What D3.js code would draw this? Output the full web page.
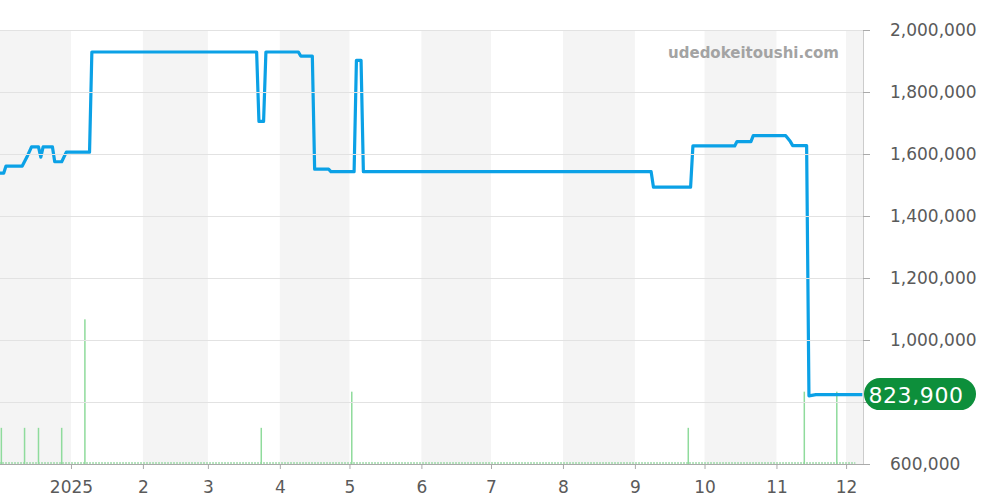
<!DOCTYPE html>
<html><head><meta charset="utf-8">
<script src="https://cdn.jsdelivr.net/npm/d3@7"></script>
<style>body{margin:0;background:#fff}svg{display:block;font-family:"DejaVu Sans",sans-serif}</style>
</head><body><svg id="c" width="1000" height="500"></svg>
<script>
const priceDates = ["2024-12-01","2024-12-03","2024-12-04","2024-12-11","2024-12-13","2024-12-15","2024-12-18","2024-12-19","2024-12-20","2024-12-24","2024-12-25","2024-12-28","2024-12-30","2025-01-09","2025-01-10","2025-03-22","2025-03-23","2025-03-25","2025-03-26","2025-04-09","2025-04-10","2025-04-15","2025-04-16","2025-04-22","2025-04-23","2025-05-03","2025-05-04","2025-05-06","2025-05-07","2025-09-08","2025-09-09","2025-09-25","2025-09-26","2025-10-14","2025-10-15","2025-10-21","2025-10-22","2025-11-05","2025-11-07","2025-11-08","2025-11-14","2025-11-15","2025-11-18","2025-12-08"];
const priceValues = [1538000,1538000,1561000,1561000,1590000,1623000,1623000,1590000,1623000,1623000,1575000,1575000,1606000,1606000,1929000,1929000,1705000,1705000,1929000,1929000,1916000,1916000,1551000,1551000,1543000,1543000,1902000,1902000,1543000,1543000,1493000,1493000,1626000,1626000,1640000,1640000,1659000,1659000,1640000,1627000,1627000,820000,823900,823900];
const volumeDates = ["2024-12-02","2024-12-12","2024-12-18","2024-12-28","2025-01-07","2025-03-24","2025-05-02","2025-09-24","2025-11-13","2025-11-27"];
const volumeValues = [1,1,1,1,4,1,2,1,2,2];
const yTicks = [600000,800000,1000000,1200000,1400000,1600000,1800000,2000000];
const monthStarts = ["2025-01-01","2025-02-01","2025-03-01","2025-04-01","2025-05-01","2025-06-01","2025-07-01","2025-08-01","2025-09-01","2025-10-01","2025-11-01","2025-12-01"];
const monthLabels = ["2025","2","3","4","5","6","7","8","9","10","11","12"];
const bandStarts = ["2024-12-01","2025-02-01","2025-04-01","2025-06-01","2025-08-01","2025-10-01","2025-12-01"];
const bandEnds = ["2025-01-01","2025-03-01","2025-05-01","2025-07-01","2025-09-01","2025-11-01","2026-01-01"];
const lastPrice = 823900;
const watermark = "udedokeitoushi.com";

const P = d3.utcParse("%Y-%m-%d");
const L = 0, R = 863, T = 30, B = 464;
const svg = d3.select("#c");
const x = d3.scaleUtc().domain([new Date(Date.UTC(2024,11,1,10)), new Date(Date.UTC(2025,11,8,7))]).range([L,R]);
const y = d3.scaleLinear().domain([600000,2000000]).range([B,T]);
const yv = d3.scaleLinear().domain([0,12]).range([B,T]);

svg.append("clipPath").attr("id","pc").append("rect").attr("x",L).attr("y",T).attr("width",R-L).attr("height",B-T);
const plot = svg.append("g").attr("clip-path","url(#pc)");

// bands
plot.selectAll("rect.band").data(bandStarts.map((s,i)=>[P(s),P(bandEnds[i])])).join("rect")
  .attr("class","band").attr("x",d=>x(d[0])).attr("width",d=>x(d[1])-x(d[0]))
  .attr("y",T).attr("height",B-T).attr("fill","#f4f4f4");

// grid
svg.append("g").selectAll("line").data(yTicks).join("line")
  .attr("x1",L).attr("x2",R).attr("y1",d=>Math.round(y(d))+0.5).attr("y2",d=>Math.round(y(d))+0.5)
  .attr("stroke","#e2e2e2").attr("stroke-width",1);

// volume baseline dotted
plot.append("line").attr("x1",x(P("2024-12-01"))).attr("x2",x(P("2025-12-05")))
  .attr("y1",B-1).attr("y2",B-1).attr("stroke","#9ddaa8").attr("stroke-width",1.5).attr("stroke-dasharray","2,1");

// volume bars
plot.selectAll("rect.vol").data(volumeDates.map((d,i)=>[P(d),volumeValues[i]])).join("rect")
  .attr("class","vol").attr("x",d=>x(d[0])-0.75).attr("width",1.5)
  .attr("y",d=>yv(d[1])).attr("height",d=>B-yv(d[1])).attr("fill","#8fdb9c");

// axes
const yAxis = d3.axisRight(y).tickValues(yTicks).tickSize(7).tickPadding(20)
  .tickFormat(d => d === 800000 ? "" : d3.format(",")(d));
const ga = svg.append("g").attr("transform",`translate(${R},0)`).call(yAxis);
ga.select(".domain").attr("stroke","#cccccc").attr("d",`M0.5,${T}V${B}`);
ga.selectAll(".tick line").attr("stroke","#aaaaaa");
ga.selectAll(".tick text").attr("font-size",17).attr("fill","#5a5a5a").attr("font-family","DejaVu Sans");

const xAxis = d3.axisBottom(x).tickValues(monthStarts.map(P)).tickSize(5).tickPadding(12).tickFormat((d,i)=>monthLabels[i]);
const gx = svg.append("g").attr("transform",`translate(0,${B})`).call(xAxis);
gx.select(".domain").attr("stroke","#aaaaaa").attr("d",`M${L},0.5H${R+7}`);
gx.selectAll(".tick line").attr("stroke","#aaaaaa");
gx.selectAll(".tick text").attr("font-size",17).attr("fill","#5a5a5a").attr("font-family","DejaVu Sans");

// price line
const data = priceDates.map((d,i)=>[P(d),priceValues[i]]);
plot.append("path").datum(data).attr("fill","none").attr("stroke","#0ba1e6").attr("stroke-width",3.2)
  .attr("stroke-linejoin","round")
  .attr("d",d3.line().x(d=>x(d[0])).y(d=>y(d[1])));

// watermark
svg.append("text").attr("x",839).attr("y",58).attr("text-anchor","end").attr("font-weight","bold")
  .attr("font-size",15).attr("fill","#a3a3a3").text(watermark);

// last price badge
const by = y(lastPrice);
svg.append("rect").attr("x",864).attr("y",by-16.5).attr("width",112).attr("height",32).attr("rx",16)
  .attr("fill","#0d8f3b");
svg.append("text").attr("x",916).attr("y",by+8).attr("text-anchor","middle").attr("fill","#fff")
  .attr("font-size",22).attr("letter-spacing","0.6px").text(d3.format(",")(lastPrice));
</script></body></html>
